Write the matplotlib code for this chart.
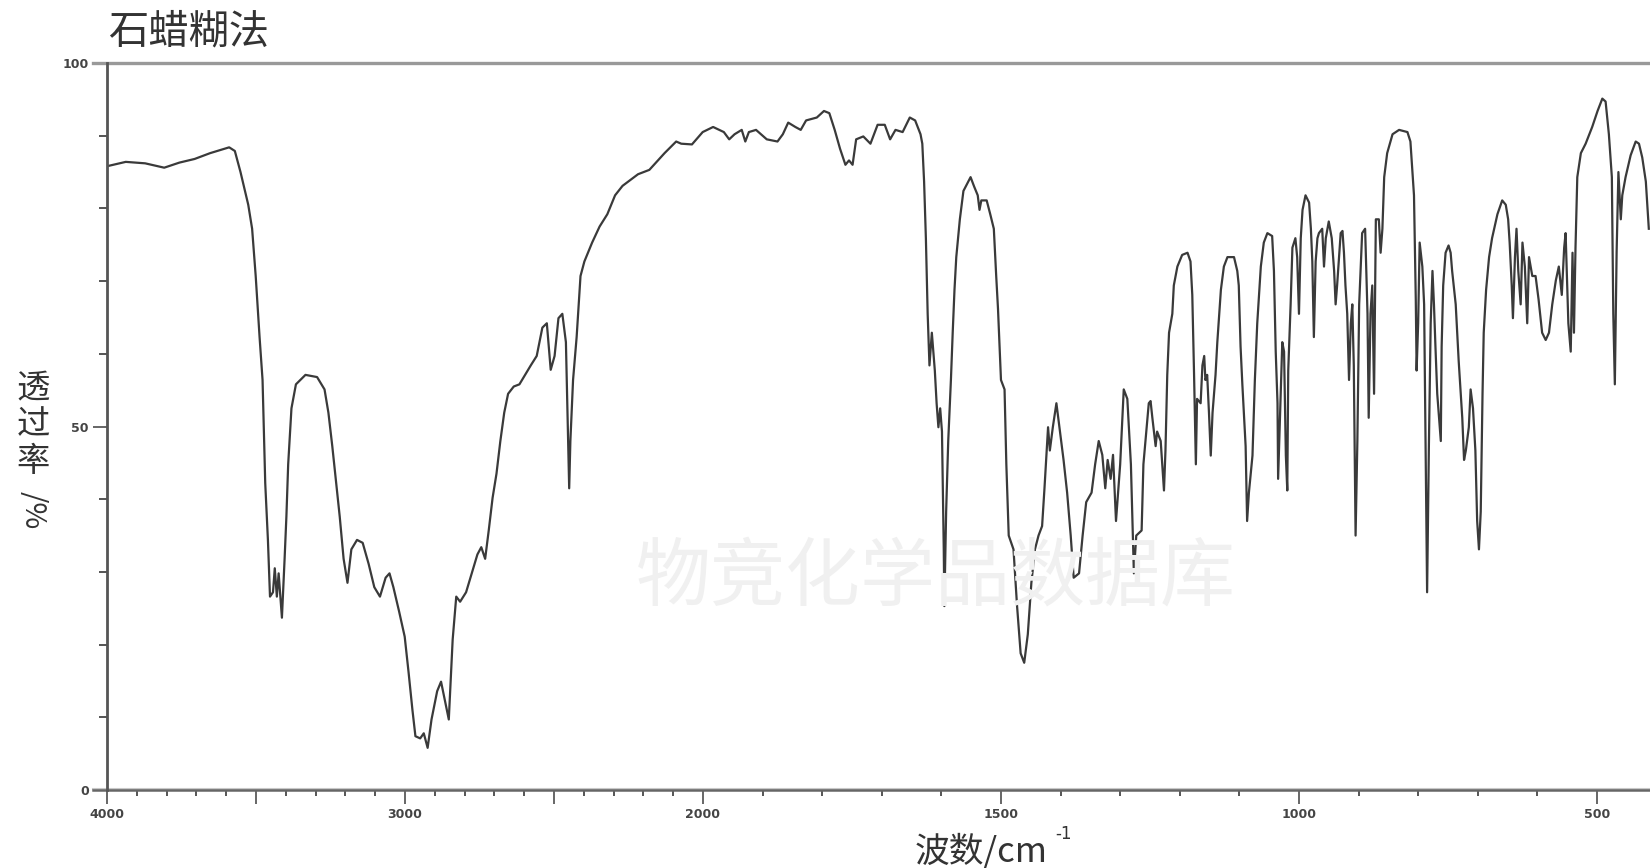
import numpy as np
import matplotlib.pyplot as plt
from matplotlib.ticker import FixedLocator, FixedFormatter

plt.rcParams['font.family'] = ['Noto Sans CJK SC', 'DejaVu Sans']

# -----------------------------
# Spectrum: wavenumber (cm-1) / transmittance (%)
# -----------------------------
wn_high = [4000, 3937, 3872, 3808, 3757, 3706, 3654, 3590, 3571, 3552, 3526, 3513, 3501, 3488,
           3478, 3469, 3460, 3453, 3443, 3437, 3430, 3424, 3413, 3404, 3398, 3392, 3381, 3366,
           3334, 3295, 3270, 3257, 3244, 3231, 3219, 3206, 3193, 3180, 3161, 3142, 3122, 3103,
           3084, 3065, 3052, 3039, 3020, 3001, 2988, 2975, 2965, 2949, 2937, 2924, 2911, 2892,
           2879, 2866, 2853, 2840, 2828, 2815, 2795, 2776, 2757, 2744, 2731, 2719, 2706, 2693,
           2680, 2667, 2654, 2635, 2616, 2597, 2578, 2558, 2539, 2524, 2511, 2498, 2485, 2472,
           2460, 2449, 2445, 2436, 2424, 2411, 2398, 2372, 2347, 2321, 2295, 2270, 2218, 2180,
           2129, 2090, 2073, 2037, 2001]
t_high = [85.8, 86.4, 86.2, 85.6, 86.3, 86.8, 87.6, 88.4, 87.9, 85.0, 80.5, 77.2, 70.7, 62.3,
          56.4, 42.2, 34.4, 26.6, 27.2, 30.5, 26.6, 29.8, 23.7, 31.8, 37.6, 44.8, 52.5, 55.8,
          57.1, 56.8, 55.1, 51.9, 47.3, 42.2, 37.6, 31.8, 28.5, 33.1, 34.4, 34.0, 31.1, 27.9,
          26.6, 29.2, 29.8, 27.9, 24.6, 21.1, 16.2, 11.0, 7.4, 7.1, 7.8, 5.8, 9.7, 13.6,
          14.9, 12.3, 9.7, 20.7, 26.6, 25.9, 27.2, 29.8, 32.4, 33.4, 31.8, 35.7, 40.2, 43.5,
          48.0, 51.9, 54.5, 55.5, 55.8, 57.1, 58.4, 59.7, 63.6, 64.2, 57.8, 59.7, 64.9, 65.5,
          61.6, 41.5, 48.0, 56.4, 62.3, 70.7, 72.7, 75.3, 77.5, 79.2, 81.8, 83.1, 84.7, 85.3,
          87.6, 89.2, 88.9, 88.8, 90.5]

wn_mid = [1983, 1965, 1956, 1947, 1935, 1929, 1923, 1911, 1893, 1875, 1866, 1857, 1845, 1836,
          1827, 1809, 1797, 1788, 1779, 1770, 1761, 1755, 1749, 1743, 1731, 1719, 1707, 1695,
          1686, 1677, 1665, 1653, 1644, 1635, 1632, 1629, 1626, 1623, 1620, 1616, 1611, 1608,
          1605, 1602, 1599, 1596, 1595, 1592, 1588.5, 1584, 1581, 1578, 1575, 1569, 1563, 1551,
          1545, 1539, 1536, 1533, 1524, 1518, 1512, 1508, 1505, 1500, 1494, 1491, 1487, 1479,
          1473, 1467, 1461, 1455, 1449, 1443, 1437, 1431, 1427, 1421, 1418, 1413, 1407, 1401,
          1395, 1389, 1383, 1378, 1369, 1363, 1357, 1348, 1342, 1336, 1330, 1325, 1321, 1316,
          1312, 1307, 1300, 1294, 1288, 1282, 1277, 1273, 1264, 1261, 1252]
t_mid = [91.2, 90.5, 89.5, 90.2, 90.8, 89.2, 90.5, 90.8, 89.5, 89.2, 90.2, 91.8, 91.2, 90.8,
         92.1, 92.5, 93.4, 93.1, 90.8, 88.2, 86.0, 86.6, 86.0, 89.5, 89.9, 88.9, 91.5, 91.5,
         89.5, 90.8, 90.5, 92.5, 92.1, 90.2, 88.9, 83.7, 75.9, 65.5, 58.4, 62.9, 57.7, 53.2,
         49.9, 52.5, 49.3, 33.1, 25.3, 38.3, 48.0, 56.4, 62.9, 68.8, 73.3, 78.5, 82.4, 84.3,
         83.0, 81.8, 79.8, 81.1, 81.1, 79.2, 77.2, 70.7, 66.2, 56.4, 55.1, 44.8, 35.0, 33.1,
         25.3, 18.8, 17.5, 21.4, 28.5, 33.1, 35.0, 36.3, 41.5, 49.9, 46.7, 49.9, 53.2, 49.3,
         45.4, 40.9, 35.0, 29.2, 29.8, 35.0, 39.6, 40.9, 44.8, 48.0, 46.1, 41.5, 45.4, 42.8,
         46.1, 37.0, 44.8, 55.1, 53.8, 44.8, 29.8, 35.0, 35.7, 44.8, 53.2]

wn_low = [1249, 1246, 1240.5, 1238, 1232, 1226.5, 1224, 1221, 1218, 1212.5, 1210, 1204, 1196,
          1187, 1182, 1179, 1176, 1173, 1171, 1165, 1162, 1159, 1157, 1154, 1151, 1148, 1145,
          1140, 1137, 1131, 1126, 1120, 1109, 1103.5, 1101, 1098, 1095, 1089.5, 1087, 1084,
          1078, 1074, 1070, 1064, 1059, 1053, 1045, 1042, 1039, 1036, 1035, 1031, 1028, 1025,
          1022, 1019.6, 1018, 1014, 1011, 1006, 1003, 1000, 997, 994, 989, 983, 980, 977.6,
          975, 972, 969, 966.5, 961, 958, 955, 950, 945, 941, 938.5, 936, 930, 927, 924.5, 922,
          919, 916, 913, 910.5, 908, 905, 902, 899, 894, 889, 885, 883, 880, 877, 874, 871, 866,
          863, 860, 857, 852, 843, 832, 818, 813, 810, 807, 804, 802.6, 800, 797.5, 793, 790,
          787.5, 785, 782, 779, 776, 773.5, 771, 768, 765, 762, 760.6, 758, 754, 749, 745.5,
          743, 737, 732, 726, 723, 720, 715, 712, 708, 704, 701, 698, 695, 692, 690, 686, 681,
          676, 667, 659, 653, 649, 646.5, 643, 641, 637.6, 635, 632, 628, 625, 621, 617, 614,
          608.5, 603, 598, 592, 586, 580.5, 575, 569, 564, 559, 555, 552.6, 548, 544, 541, 538.6,
          536, 533, 527, 519, 508, 499, 491, 485.5, 480, 475, 472.6, 470, 467, 464, 460, 457.5,
          452, 443.5, 435, 429.5, 424, 418, 413]
t_low = [53.5, 51.2, 47.3, 49.3, 48.0, 41.2, 46.7, 57.1, 62.9, 65.5, 69.4, 72.0, 73.6,
         73.9, 72.7, 68.1, 57.1, 44.8, 53.8, 53.2, 58.4, 59.7, 56.4, 57.1, 51.9, 46.0, 51.9,
         57.1, 61.6, 68.8, 72.0, 73.3, 73.3, 71.4, 69.4, 61.0, 55.8, 47.3, 37.0, 40.9,
         46.0, 56.4, 64.2, 72.0, 75.3, 76.6, 76.2, 71.4, 60.3, 53.2, 42.8, 53.8, 61.6, 60.3,
         46.0, 41.2, 57.7, 66.8, 74.6, 75.9, 73.3, 65.5, 75.9, 79.8, 81.8, 80.8, 77.2, 72.7,
         62.3, 72.7, 75.9, 76.6, 77.2, 72.0, 75.9, 78.2, 75.9, 71.4, 66.8, 69.4, 76.6, 76.9, 73.9, 69.4,
         65.5, 56.4, 64.2, 66.8, 58.4, 35.0, 48.0, 66.8, 76.6, 77.2, 65.5, 51.2, 65.5, 69.4, 54.5, 78.5, 78.5,
         73.9, 77.2, 84.3, 87.6, 90.2, 90.8, 90.5, 89.2, 85.6, 81.8, 67.5, 57.7, 64.2, 75.3, 72.0, 66.8,
         47.3, 27.2, 47.3, 64.2, 71.4, 66.8, 61.0, 54.5, 51.2, 48.0, 61.0, 69.4, 73.9, 74.9, 73.9,
         71.4, 66.8, 59.0, 51.2, 45.4, 46.7, 49.9, 55.1, 52.5, 46.7, 37.0, 33.1, 38.3, 54.5, 62.9, 68.8, 73.3,
         75.9, 79.2, 81.1, 80.5, 78.5, 75.3, 69.4, 64.9, 73.3, 77.2, 71.4, 66.8, 75.3, 72.0, 64.2, 73.3,
         70.7, 70.7, 67.5, 62.9, 61.9, 62.9, 66.8, 70.1, 72.0, 68.1, 74.6, 76.6, 64.2, 60.3, 73.9, 62.9,
         74.6, 84.3, 87.6, 88.9, 91.2, 93.4, 95.1, 94.7, 90.2, 84.3, 65.5, 55.8, 74.0, 85.0, 78.5, 81.8,
         84.3, 87.3, 89.2, 88.9, 87.0, 83.7, 77.2]

title = "石蜡糊法"
watermark = "物竞化学品数据库"
x_major = [4000, 3500, 3000, 2500, 2000, 1500, 1000, 500]
x_major_labels = ["4000", "", "3000", "", "2000", "1500", "1000", "500"]
x_minor = list(range(500, 4001, 100))
y_major = [0, 50, 100]
y_minor = list(range(0, 101, 10))

wn = np.array(wn_high + wn_mid + wn_low, dtype=float)
trans = np.array(t_high + t_mid + t_low, dtype=float)


# IR axis: below 2000 cm-1 the scale is stretched twice
def fwd(x):
    x = np.asarray(x, dtype=float)
    return np.where(x >= 2000, x, 2 * x - 2000)


def inv(y):
    y = np.asarray(y, dtype=float)
    return np.where(y >= 2000, y, (y + 2000) / 2)


# -----------------------------
# Plot
# -----------------------------
fig = plt.figure(figsize=(16.5, 8.68), dpi=100)
ax = fig.add_axes([107 / 1650, 1 - 790 / 868, 1 - 107 / 1650, (790 - 63) / 868])
ax.set_xscale("function", functions=(fwd, inv))

ax.plot(wn, trans, color="#3a3a3a", linewidth=1.6)

ax.set_xlim(4000, 411)
ax.set_ylim(0, 100)

ax.xaxis.set_major_locator(FixedLocator(x_major))
ax.xaxis.set_major_formatter(FixedFormatter(x_major_labels))
ax.xaxis.set_minor_locator(FixedLocator(x_minor))
ax.yaxis.set_major_locator(FixedLocator(y_major))
ax.yaxis.set_minor_locator(FixedLocator(y_minor))

ax.tick_params(which="major", length=10, width=1.4, color="#666", direction="out",
               labelsize=9, labelcolor="#444", pad=3)
ax.tick_params(which="minor", length=4.5, width=1.4, color="#555", direction="out")
ax.tick_params(axis="y", which="minor", length=5.5)
for lab in ax.get_xticklabels() + ax.get_yticklabels():
    lab.set_family("DejaVu Sans")
    lab.set_fontweight("bold")

for side in ["top", "bottom", "right"]:
    ax.spines[side].set_visible(False)
ax.spines["left"].set_color("#555")
ax.spines["left"].set_linewidth(2)

# frame lines that run slightly left of the y axis
ax.plot([-0.009, 1], [1, 1], transform=ax.transAxes, color="#999", lw=2.4, clip_on=False)
ax.plot([-0.009, 1], [0.002, 0.002], transform=ax.transAxes, color="#c8c8c8", lw=1.5, clip_on=False)
ax.plot([-0.009, 1], [0, 0], transform=ax.transAxes, color="#666", lw=1.8, clip_on=False)

# texts
fig.text(108 / 1650, 1 - 32 / 868, title, fontsize=29, color="#333", va="center", ha="left")
fig.text(33 / 1650, 1 - 425 / 868, "透\n过\n率", fontsize=24, color="#333",
         ha="center", va="center", linespacing=1.05)
fig.text(33 / 1650, 1 - 510 / 868, "/%", fontsize=21, color="#333",
         ha="center", va="center", rotation=-90)
fig.text(915 / 1650, 1 - 852 / 868, "波数/cm", fontsize=25, color="#333",
         ha="left", va="center")
fig.text(1055 / 1650, 1 - 834 / 868, "-1", fontsize=12, color="#333",
         ha="left", va="center", family="DejaVu Sans")
fig.text(936 / 1650, 1 - 578 / 868, watermark, fontsize=54, color="#f0f0f0",
         ha="center", va="center", fontweight="light", zorder=0)

plt.savefig("out.png", dpi=100)
